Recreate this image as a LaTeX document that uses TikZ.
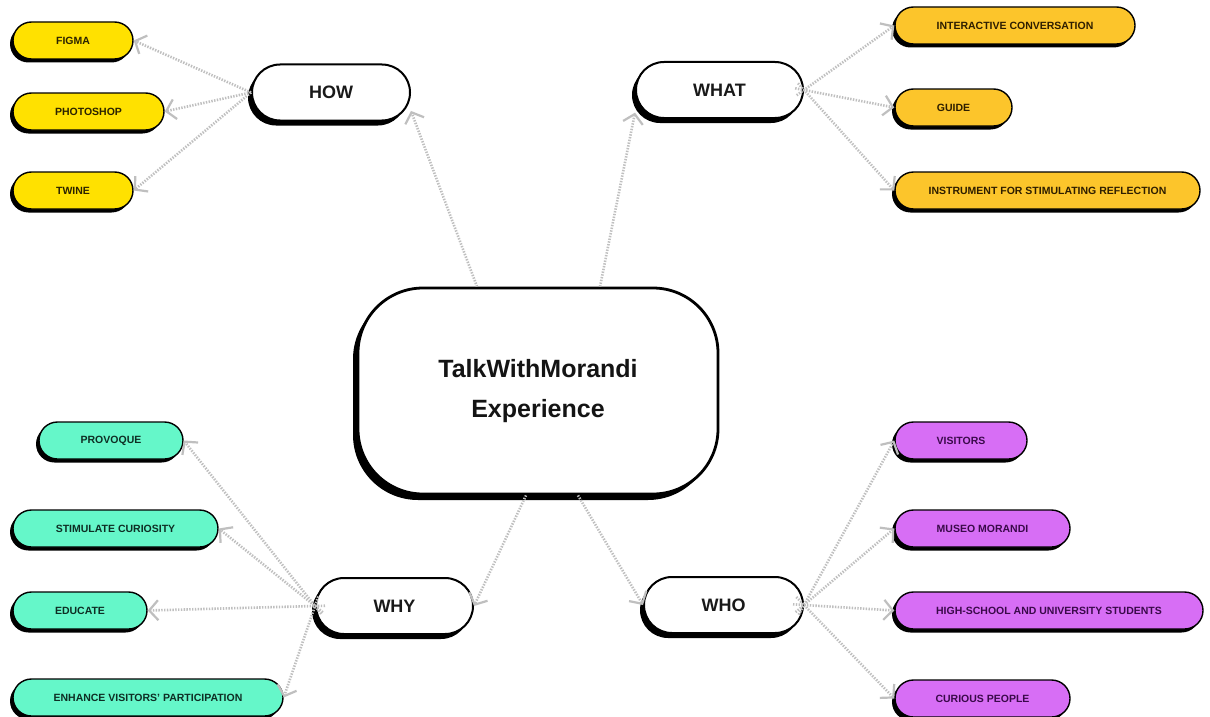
\documentclass[tikz,border=0pt]{standalone}
\usepackage{fontspec}
\setmainfont{Liberation Sans}
\usetikzlibrary{shadows,arrows.meta,calc}

\definecolor{lemon}{HTML}{FFE100}
\definecolor{gold}{HTML}{FCC52B}
\definecolor{mint}{HTML}{65F7C9}
\definecolor{orchid}{HTML}{D76EF5}
\definecolor{lemontxt}{HTML}{2B2300}
\definecolor{goldtxt}{HTML}{2E1E00}
\definecolor{minttxt}{HTML}{0E2E24}
\definecolor{orchidtxt}{HTML}{3A0A4A}
\definecolor{linkgray}{HTML}{BFBFBF}

\tikzset{
  leaf/.style={rectangle, rounded corners=18.5pt, minimum height=37pt, inner sep=0pt,
    draw=black, line width=1.4pt, font=\fontsize{10.5}{12}\selectfont\bfseries,
    drop shadow={shadow xshift=-3pt, shadow yshift=-3.5pt, fill=black, opacity=1}},
  branch/.style={rectangle, rounded corners=28pt, minimum height=56pt, inner sep=0pt,
    draw=black, line width=2pt, fill=white, text=black!90, font=\fontsize{18}{20}\selectfont\bfseries,
    drop shadow={shadow xshift=-4pt, shadow yshift=-5pt, fill=black, opacity=1}},
  hub/.style={rectangle, rounded corners=65pt, inner sep=0pt, align=center,
    draw=black, line width=2.8pt, fill=white, text=black!92, font=\fontsize{25}{40}\selectfont\bfseries,
    drop shadow={shadow xshift=-5pt, shadow yshift=-6pt, fill=black, opacity=1}},
  tool/.style={leaf, fill=lemon, text=lemontxt},
  aim/.style={leaf, fill=gold, text=goldtxt},
  motive/.style={leaf, fill=mint, text=minttxt},
  audience/.style={leaf, fill=orchid, text=orchidtxt},
  link/.style={draw=linkgray, line width=2.6pt, dash pattern=on 1.4pt off 1.4pt,
    -{Straight Barb[length=9pt, width=20pt, line width=2.2pt]}},
}

\begin{document}
\begin{tikzpicture}[x=1pt, y=-1pt]
\useasboundingbox (0,0) rectangle (1210,717);
\fill[white] (0,0) rectangle (1210,717);

% central topic
\node[hub, minimum width=360pt, minimum height=206pt] (core) at (538,391) {TalkWithMorandi\\Experience};

% four questions
\node[branch, minimum width=158pt] (how)  at (331,92.5) {HOW};
\node[branch, minimum width=167pt] (what) at (719.5,90) {WHAT};
\node[branch, minimum width=157pt] (why)  at (394.5,606) {WHY};
\node[branch, minimum width=159pt] (who)  at (723.5,605) {WHO};

% HOW
\node[tool, minimum width=120pt] (figma) at (73,40.5) {FIGMA};
\node[tool, minimum width=151pt] (photoshop) at (88.5,111.5) {PHOTOSHOP};
\node[tool, minimum width=120pt] (twine) at (73,190.5) {TWINE};

% WHAT
\node[aim, minimum width=240pt] (conversation) at (1015,25.5) {INTERACTIVE CONVERSATION};
\node[aim, minimum width=117pt] (guide) at (953.5,107.5) {GUIDE};
\node[aim, minimum width=305pt] (reflection) at (1047.5,190.5) {INSTRUMENT FOR STIMULATING REFLECTION};

% WHY
\node[motive, minimum width=144pt] (provoque) at (111,440.5) {PROVOQUE};
\node[motive, minimum width=205pt] (curiosity) at (115.5,528.5) {STIMULATE CURIOSITY};
\node[motive, minimum width=134pt] (educate) at (80,610.5) {EDUCATE};
\node[motive, minimum width=270pt] (participation) at (148,697.5) {ENHANCE VISITORS' PARTICIPATION};

% WHO
\node[audience, minimum width=132pt] (visitors) at (961,440.5) {VISITORS};
\node[audience, minimum width=175pt] (museo) at (982.5,528.5) {MUSEO MORANDI};
\node[audience, minimum width=308pt] (students) at (1049,610.5) {HIGH-SCHOOL AND UNIVERSITY STUDENTS};
\node[audience, minimum width=175pt] (curious) at (982.5,698.5) {CURIOUS PEOPLE};

% connectors from the central topic
\draw[link] ([xshift=-61pt]core.north) -- (how.-13.5);
\draw[link] ([xshift=62pt]core.north) -- (what.195);
\draw[link] ([xshift=-12pt]core.south) -- (why.east);
\draw[link] ([xshift=40pt]core.south) -- (who.west);

% HOW branch
\draw[link] (how.west) -- (figma.east);
\draw[link] (how.west) -- (photoshop.east);
\draw[link] (how.west) -- (twine.east);

% WHAT branch
\draw[link, shorten <=-9pt] (what.east) -- (conversation.west);
\draw[link, shorten <=-9pt] (what.east) -- (guide.west);
\draw[link, shorten <=-9pt] (what.east) -- (reflection.west);

% WHY branch
\draw[link, shorten <=-10pt] (why.west) -- (provoque.east);
\draw[link, shorten <=-10pt] (why.west) -- (curiosity.east);
\draw[link, shorten <=-10pt] (why.west) -- (educate.east);
\draw[link, shorten <=-10pt] (why.west) -- (participation.east);

% WHO branch
\draw[link, shorten <=-11pt] (who.east) -- (visitors.west);
\draw[link, shorten <=-11pt] (who.east) -- (museo.west);
\draw[link, shorten <=-11pt] (who.east) -- (students.west);
\draw[link, shorten <=-11pt] (who.east) -- (curious.west);
\end{tikzpicture}
\end{document}
